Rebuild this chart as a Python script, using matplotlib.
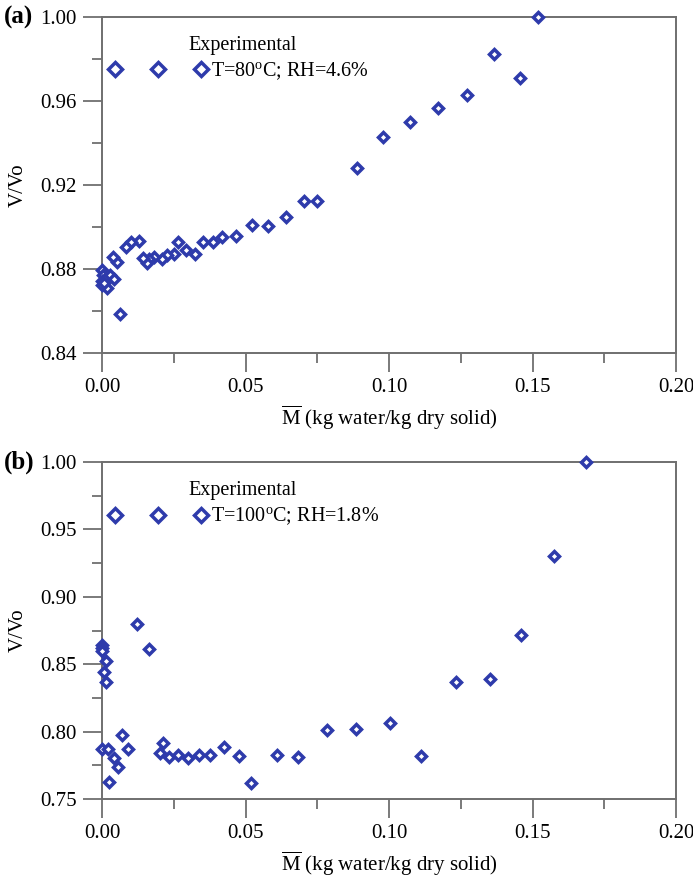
from __future__ import annotations

import matplotlib
import numpy as np

matplotlib.use("Agg")
import matplotlib.pyplot as plt
from matplotlib.ticker import MultipleLocator


BLUE = "#2e3bab"
SPINE = "#6f6f6f"

# panel (a): T=80 C, RH=4.6 %
M_A = [
    0.1519, 0.1366, 0.1456, 0.1272, 0.1171, 0.1073, 0.0979, 0.0889,
    0.0704, 0.0749, 0.0641, 0.0578, 0.0523, 0.0467, 0.0418, 0.0387,
    0.0352, 0.0324, 0.0293, 0.0265, 0.0251, 0.0226, 0.0209, 0.0181,
    0.0164, 0.0157, 0.0143, 0.0129, 0.0101, 0.0084, 0.0052, 0.0038,
    0.0063, 0.0000, 0.0003, 0.0000, 0.0014, 0.0028, 0.0042, 0.0000,
    0.0017, 0.0007,
]
V_A = [
    1.0000, 0.9825, 0.9707, 0.9626, 0.9565, 0.9498, 0.9427, 0.9280,
    0.9124, 0.9124, 0.9049, 0.9006, 0.9011, 0.8959, 0.8954, 0.8926,
    0.8930, 0.8869, 0.8892, 0.8926, 0.8873, 0.8864, 0.8845, 0.8855,
    0.8845, 0.8826, 0.8850, 0.8935, 0.8930, 0.8902, 0.8831, 0.8855,
    0.8585, 0.8793, 0.8769, 0.8741, 0.8755, 0.8769, 0.8750, 0.8722,
    0.8708, 0.8731,
]

# panel (b): T=100 C, RH=1.8 %
M_B = [
    0.0000, 0.0000, 0.0000, 0.0014, 0.0007, 0.0014, 0.0123, 0.0164,
    0.0001, 0.0020, 0.0069, 0.0043, 0.0057, 0.0026, 0.0089, 0.0214,
    0.0201, 0.0235, 0.0265, 0.0299, 0.0337, 0.0378, 0.0426, 0.0476,
    0.0520, 0.0611, 0.0684, 0.0784, 0.0884, 0.1002, 0.1113, 0.1235,
    0.1351, 0.1460, 0.1576, 0.1685,
]
V_B = [
    0.8640, 0.8620, 0.8600, 0.8525, 0.8440, 0.8367, 0.8800, 0.8615,
    0.7870, 0.7870, 0.7976, 0.7806, 0.7739, 0.7623, 0.7868, 0.7912,
    0.7838, 0.7810, 0.7828, 0.7803, 0.7828, 0.7828, 0.7887, 0.7820,
    0.7620, 0.7823, 0.7814, 0.8013, 0.8019, 0.8063, 0.7822, 0.8365,
    0.8388, 0.8718, 0.9305, 1.0000,
]

PANELS = [
    {
        "tag": "(a)",
        "x": M_A,
        "y": V_A,
        "label": r"T=80$^{\rm o}$C; RH=4.6%",
        "ylim": (0.84, 1.00),
        "major": 0.04,
        "minor": 0.02,
    },
    {
        "tag": "(b)",
        "x": M_B,
        "y": V_B,
        "label": r"T=100$^{\rm o}$C; RH=1.8%",
        "ylim": (0.75, 1.00),
        "major": 0.05,
        "minor": 0.025,
    },
]

# axes boxes in figure fractions (left, bottom, width, height)
BOXES = [
    (0.1472, 0.5990, 0.8283, 0.3817),
    (0.1472, 0.0920, 0.8283, 0.3830),
]
FS = 15


def style_axes(ax: plt.Axes, panel: dict) -> None:
    for side in ("top", "right", "left", "bottom"):
        ax.spines[side].set_color(SPINE)
        ax.spines[side].set_linewidth(1.4)

    ax.set_xlim(0.0, 0.20)
    ax.set_ylim(*panel["ylim"])
    ax.xaxis.set_major_locator(MultipleLocator(0.05))
    ax.xaxis.set_minor_locator(MultipleLocator(0.025))
    ax.yaxis.set_major_locator(MultipleLocator(panel["major"]))
    ax.yaxis.set_minor_locator(MultipleLocator(panel["minor"]))
    ax.xaxis.set_major_formatter(lambda v, _: f"{v:.2f}")
    ax.yaxis.set_major_formatter(lambda v, _: f"{v:.2f}")

    ax.tick_params(which="both", direction="out", color=SPINE, width=1.3,
                   top=False, right=False)
    ax.tick_params(which="major", length=14, labelsize=FS)
    ax.tick_params(which="minor", length=7)
    ax.tick_params(axis="x", which="major", pad=4)
    ax.tick_params(axis="y", which="major", pad=4)

    ax.set_xlabel(r"$\overline{\rm M}$ (kg water/kg dry solid)", fontsize=FS,
                  labelpad=5)
    ax.set_ylabel("V/Vo", fontsize=FS, labelpad=9)


def main() -> None:
    plt.rcParams.update(
        {
            "font.family": ["Liberation Serif", "DejaVu Serif"],
            "mathtext.fontset": "custom",
            "mathtext.rm": "Liberation Serif",
            "mathtext.it": "Liberation Serif:italic",
            "mathtext.bf": "Liberation Serif:bold",
        }
    )
    fig = plt.figure(figsize=(6.93, 8.8), dpi=100)
    fig.patch.set_facecolor("white")

    for box, panel in zip(BOXES, PANELS):
        ax = fig.add_axes(box)
        ax.plot(panel["x"], panel["y"], linestyle="none", marker="D",
                markersize=5.0, markeredgewidth=2.5, markeredgecolor=BLUE,
                markerfacecolor="white", clip_on=False, zorder=3,
                label=panel["label"])
        style_axes(ax, panel)

        ax.legend(loc="center left", bbox_to_anchor=(0.012, 0.838),
                  frameon=False, numpoints=3, markerscale=1.4,
                  handlelength=4.85, handletextpad=0.2, borderpad=0,
                  borderaxespad=0, fontsize=FS - 0.5)
        ax.text(0.150, 0.915, "Experimental", transform=ax.transAxes,
                ha="left", va="center", fontsize=FS - 0.5)

        top_px = (1 - (box[1] + box[3])) * 880
        fig.text(4 / 693, 1 - top_px / 880, panel["tag"], ha="left",
                 va="center", fontsize=18, fontweight="bold")

    fig.savefig("out.png", dpi=100)
    plt.close(fig)


if __name__ == "__main__":
    main()
